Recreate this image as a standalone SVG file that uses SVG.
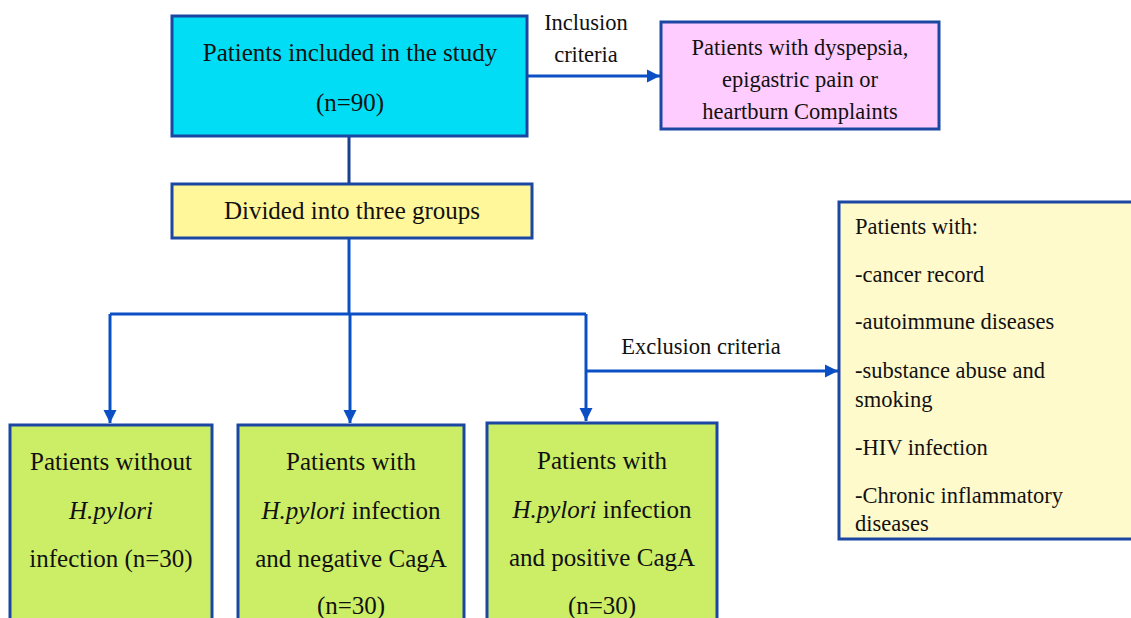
<svg xmlns="http://www.w3.org/2000/svg" width="1131" height="618" viewBox="0 0 1131 618">
<style>
text{font-family:'Liberation Serif','Times New Roman',serif;fill:#111;}
.c{text-anchor:middle;}
.f25{font-size:25px;}
.f22{font-size:22.5px;}
.box{stroke:#1B47A3;stroke-width:3;}
.conn{stroke:#0B4FC4;stroke-width:3;fill:none;}
.it{font-style:italic;}
</style>
<defs>
<marker id="ah" viewBox="0 0 10 10" refX="10" refY="5" markerWidth="4.5" markerHeight="4.5" orient="auto" markerUnits="strokeWidth">
<path d="M0,0 L10,5 L0,10 z" fill="#0B4FC4"/>
</marker>
</defs>
<rect width="1131" height="618" fill="#fff"/>
<g id="connectors">
<line class="conn" x1="527" y1="76" x2="660" y2="76" marker-end="url(#ah)"/>
<line class="conn" x1="349" y1="136" x2="349" y2="184" style="stroke:#1B3F8F"/>
<polyline class="conn" points="349,238 349,314"/>
<polyline class="conn" points="110,314 586,314"/>
<line class="conn" x1="110" y1="314" x2="110" y2="423" marker-end="url(#ah)"/>
<line class="conn" x1="350" y1="314" x2="350" y2="423" marker-end="url(#ah)"/>
<line class="conn" x1="586" y1="314" x2="586" y2="421" marker-end="url(#ah)"/>
<line class="conn" x1="586" y1="371" x2="838" y2="371" marker-end="url(#ah)"/>
<text class="f22 c" x="586" y="30">Inclusion</text>
<text class="f22 c" x="586" y="62">criteria</text>
<text class="f22 c" x="701" y="354">Exclusion criteria</text>
</g>
<g id="study">
<rect class="box" x="172" y="16" width="355" height="120" fill="#00DDF5"/>
<text class="f25 c" x="350" y="61">Patients included in the study</text>
<text class="f25 c" x="350" y="111">(n=90)</text>
</g>
<g id="inclusion">
<rect class="box" x="661" y="22" width="278" height="107" fill="#FFCCFF"/>
<text class="f22 c" x="800" y="55">Patients with dyspepsia,</text>
<text class="f22 c" x="800" y="87">epigastric pain or</text>
<text class="f22 c" x="800" y="119">heartburn Complaints</text>
</g>
<g id="divided">
<rect class="box" x="172" y="184" width="360" height="54" fill="#FFF799"/>
<text class="f25 c" x="352" y="219">Divided into three groups</text>
</g>
<g id="exclusion">
<rect class="box" x="839" y="202" width="300" height="337" fill="#FFFACC"/>
<text class="f22" x="855" y="234">Patients with:</text>
<text class="f22" x="855" y="282">-cancer record</text>
<text class="f22" x="855" y="329">-autoimmune diseases</text>
<text class="f22" x="855" y="378">-substance abuse and</text>
<text class="f22" x="855" y="407">smoking</text>
<text class="f22" x="855" y="455">-HIV infection</text>
<text class="f22" x="855" y="503">-Chronic inflammatory</text>
<text class="f22" x="855" y="531">diseases</text>
</g>
<g id="group1">
<rect class="box" x="10" y="425" width="202" height="210" fill="#CCEE66"/>
<text class="f25 c" x="111" y="470">Patients without</text>
<text class="f25 c it" x="111" y="519">H.pylori</text>
<text class="f25 c" x="111" y="567">infection (n=30)</text>
</g>
<g id="group2">
<rect class="box" x="238" y="425" width="226" height="210" fill="#CCEE66"/>
<text class="f25 c" x="351" y="470">Patients with</text>
<text class="f25 c" x="351" y="519"><tspan class="it">H.pylori</tspan> infection</text>
<text class="f25 c" x="351" y="567">and negative CagA</text>
<text class="f25 c" x="351" y="614">(n=30)</text>
</g>
<g id="group3">
<rect class="box" x="487" y="423" width="230" height="212" fill="#CCEE66"/>
<text class="f25 c" x="602" y="469">Patients with</text>
<text class="f25 c" x="602" y="518"><tspan class="it">H.pylori</tspan> infection</text>
<text class="f25 c" x="602" y="566">and positive CagA</text>
<text class="f25 c" x="602" y="614">(n=30)</text>
</g>
</svg>
